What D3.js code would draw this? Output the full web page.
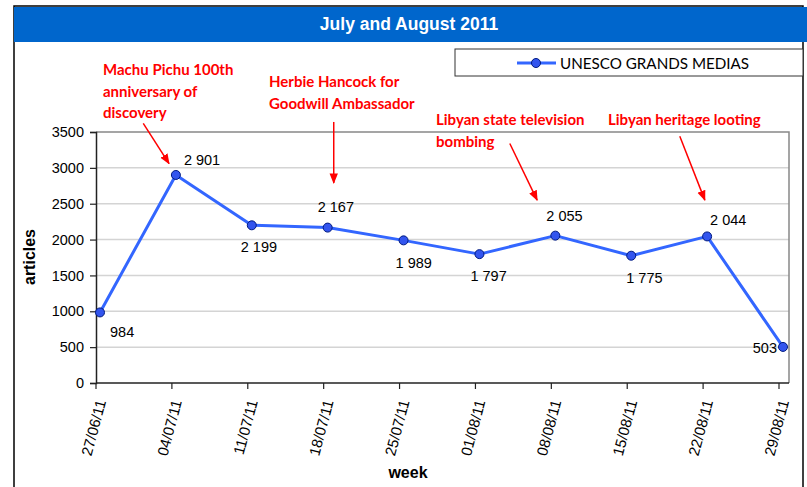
<!DOCTYPE html>
<html lang="en">
<head>
    <meta charset="UTF-8">
    <title>July and August 2011</title>
    <script src="https://d3js.org/d3.v7.min.js"></script>
    <style>
        body { margin: 0; background: #fff; }
        svg { display: block; }
        .tick-label { font-family: "Liberation Sans", Arial, sans-serif; font-size: 14.5px; fill: #000; }
        .x-label { font-family: "Liberation Sans", Arial, sans-serif; font-size: 15px; fill: #000; }
        .value-label { font-family: "Liberation Sans", Arial, sans-serif; font-size: 14.5px; fill: #000; }
        .axis-title { font-family: "Liberation Sans", Arial, sans-serif; font-size: 16px; font-weight: bold; }
        .note { font-family: Lato, "Open Sans", sans-serif; font-size: 15px; font-weight: bold; fill: #ff0000; }
        .legend-text { font-family: Lato, "Open Sans", sans-serif; font-size: 15.2px; fill: #000; }
    </style>
</head>
<body>
<div id="chart"></div>
<script>
    const weeks = ["27/06/11", "04/07/11", "11/07/11", "18/07/11", "25/07/11",
                   "01/08/11", "08/08/11", "15/08/11", "22/08/11", "29/08/11"];
    const articles = [984, 2901, 2199, 2167, 1989, 1797, 2055, 1775, 2044, 503];
    const valueLabels = ["984", "2 901", "2 199", "2 167", "1 989", "1 797", "2 055", "1 775", "2 044", "503"];
    const yTicks = [0, 500, 1000, 1500, 2000, 2500, 3000, 3500];
    const seriesName = "UNESCO GRANDS MEDIAS";
    const notes = [
        { lines: ["Machu Pichu 100th", "anniversary of", "discovery"], from: [0.57, 3620], to: [0.91, 3060] },
        { lines: ["Herbie Hancock for", "Goodwill Ambassador"], from: [3.08, 3640], to: [3.08, 2790] },
        { lines: ["Libyan state television", "bombing"], from: [5.40, 3340], to: [5.76, 2550] },
        { lines: ["Libyan heritage looting"], from: [7.64, 3440], to: [7.97, 2550] }
    ];

    const W = 807, H = 487;
    const svg = d3.select("#chart").append("svg").attr("width", W).attr("height", H);

    const pLeft = 96, pRight = 789, pTop = 132, pBottom = 383;

    const x = d3.scalePoint().domain(weeks).range([100, 783]);
    const xi = d3.scaleLinear().domain([0, weeks.length - 1]).range([100, 783]);
    const y = d3.scaleLinear().domain([0, 3500]).range([pBottom, pTop]);

    // outer frame + header
    svg.append("rect").attr("x", 14).attr("y", 6).attr("width", 789).attr("height", 490)
        .attr("fill", "none").attr("stroke", "#000").attr("stroke-width", 1.5);
    svg.append("rect").attr("x", 14).attr("y", 7).attr("width", 793).attr("height", 35).attr("fill", "#0066cc");
    svg.append("text").attr("x", 409).attr("y", 30).attr("text-anchor", "middle")
        .attr("font-family", "'Liberation Sans', Arial, sans-serif").attr("font-size", 17.5)
        .attr("font-weight", "bold").attr("fill", "#fff").text("July and August 2011");

    // legend
    svg.append("rect").attr("x", 455).attr("y", 49).attr("width", 348).attr("height", 27)
        .attr("fill", "#fff").attr("stroke", "#333").attr("stroke-width", 1);
    svg.append("line").attr("x1", 517).attr("x2", 556).attr("y1", 63).attr("y2", 63)
        .attr("stroke", "#3366ff").attr("stroke-width", 3);
    svg.append("circle").attr("cx", 536).attr("cy", 63).attr("r", 4.5)
        .attr("fill", "#3355ee").attr("stroke", "#001a80").attr("stroke-width", 1);
    svg.append("text").attr("class", "legend-text").attr("x", 560).attr("y", 69).text(seriesName);

    // gridlines
    svg.append("g").selectAll("line").data(yTicks.filter(d => d > 0 && d < 3500)).join("line")
        .attr("x1", pLeft).attr("x2", pRight).attr("y1", d => y(d)).attr("y2", d => y(d))
        .attr("stroke", "#d4d4d4").attr("stroke-width", 1.5);

    // plot frame top/right
    svg.append("path").attr("d", `M${pLeft},${pTop}H${pRight}V${pBottom}`)
        .attr("fill", "none").attr("stroke", "#888").attr("stroke-width", 1.5);

    // y axis
    const yAxis = svg.append("g").attr("transform", `translate(${pLeft},0)`)
        .call(d3.axisLeft(y).tickValues(yTicks).tickSize(6).tickPadding(6).tickFormat(d3.format("d")));
    yAxis.select(".domain").attr("stroke", "#222").attr("stroke-width", 1.5);
    yAxis.selectAll(".tick line").attr("stroke", "#222").attr("stroke-width", 1.2);
    yAxis.selectAll("text").attr("class", "tick-label");
    yAxis.attr("font-size", null).attr("font-family", null);

    // x axis (Excel puts the ticks a little left of the points)
    const xAxis = svg.append("g").attr("transform", `translate(-4.5,${pBottom})`)
        .call(d3.axisBottom(x).tickSize(6).tickFormat(""));
    xAxis.select(".domain").attr("d", `M${pLeft + 4.5},0H${pRight + 4.5}`).attr("stroke", "#222").attr("stroke-width", 1.5);
    xAxis.selectAll(".tick line").attr("stroke", "#222").attr("stroke-width", 1.2);

    svg.append("g").selectAll("text").data(weeks).join("text")
        .attr("class", "x-label")
        .attr("text-anchor", "end")
        .attr("transform", d => `translate(${x(d) + 1},${pBottom + 17}) rotate(-75)`)
        .attr("dy", "0.35em")
        .text(d => d);

    // axis titles
    svg.append("text").attr("class", "axis-title").attr("x", 408).attr("y", 478)
        .attr("text-anchor", "middle").text("week");
    svg.append("text").attr("class", "axis-title").attr("text-anchor", "middle")
        .attr("transform", `translate(35,257) rotate(-90)`).text("articles");

    // series
    const line = d3.line().x((d, i) => x(weeks[i])).y(d => y(d));
    svg.append("path").datum(articles).attr("d", line)
        .attr("fill", "none").attr("stroke", "#3366ff").attr("stroke-width", 3).attr("stroke-linejoin", "round");
    svg.append("g").selectAll("circle").data(articles).join("circle")
        .attr("cx", (d, i) => x(weeks[i])).attr("cy", d => y(d)).attr("r", 4.5)
        .attr("fill", "#3355ee").attr("stroke", "#001a80").attr("stroke-width", 1);

    // value labels: offsets from each point
    const labelShift = [[10, 25], [8, -10], [-11, 27], [-10, -16], [-8, 28],
                        [-9, 27], [-9, -15], [-5, 27], [3, -11], [-6, 6]];
    svg.append("g").selectAll("text").data(articles).join("text")
        .attr("class", "value-label")
        .attr("text-anchor", (d, i) => i === articles.length - 1 ? "end" : "start")
        .attr("x", (d, i) => x(weeks[i]) + labelShift[i][0])
        .attr("y", (d, i) => y(d) + labelShift[i][1])
        .text((d, i) => valueLabels[i]);

    // annotations
    svg.append("defs").append("marker").attr("id", "head")
        .attr("viewBox", "0 0 10 10").attr("refX", 9).attr("refY", 5)
        .attr("markerWidth", 7).attr("markerHeight", 7).attr("orient", "auto")
        .append("path").attr("d", "M0,1L10,5L0,9Z").attr("fill", "#ff0000");

    const notePos = [[103, 75], [269, 87], [436, 125], [608, 125]];
    notes.forEach((n, k) => {
        const t = svg.append("text").attr("class", "note");
        n.lines.forEach((s, j) => {
            t.append("tspan").attr("x", notePos[k][0]).attr("y", notePos[k][1] + j * 21.5).text(s);
        });
        svg.append("line")
            .attr("x1", xi(n.from[0])).attr("y1", y(n.from[1]))
            .attr("x2", xi(n.to[0])).attr("y2", y(n.to[1]))
            .attr("stroke", "#ff0000").attr("stroke-width", 1.5)
            .attr("marker-end", "url(#head)");
    });
</script>
</body>
</html>
